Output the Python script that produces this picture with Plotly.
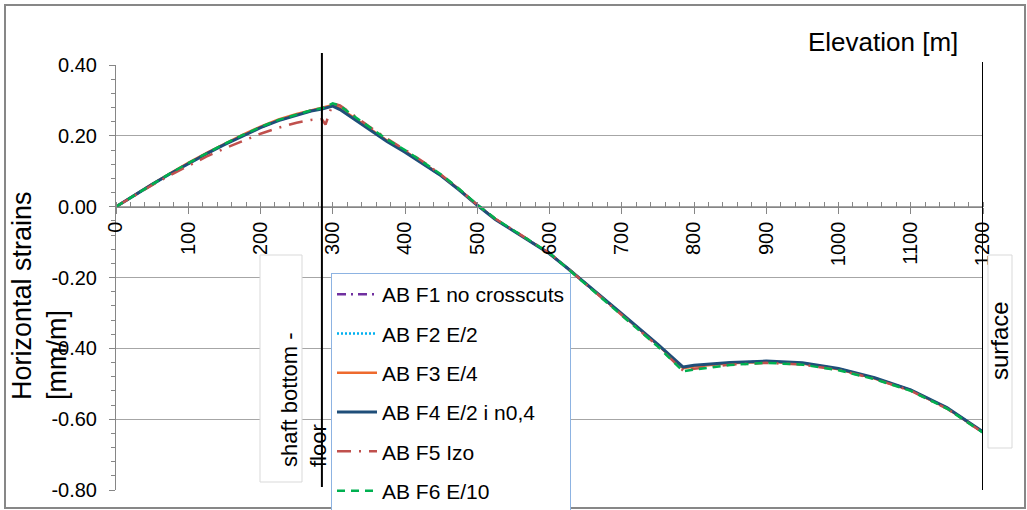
import plotly.graph_objects as go

# ---------------- data ----------------
ELEVATION = [0, 25, 50, 75, 100, 125, 150, 175, 200, 225, 250, 270, 285, 290, 300, 310, 325,
             350, 375, 400, 425, 450, 475, 500, 525, 550, 575, 600, 625, 650, 700, 750, 785,
             800, 850, 900, 950, 1000, 1050, 1100, 1150, 1200]

F1_NO_CROSSCUTS = [0.000, 0.032, 0.063, 0.093, 0.122, 0.150, 0.176, 0.201, 0.224, 0.244, 0.260,
                   0.271, 0.277, 0.279, 0.286, 0.276, 0.255, 0.220, 0.186, 0.156, 0.123, 0.088,
                   0.048, 0.005, -0.035, -0.068, -0.100, -0.132, -0.174, -0.217, -0.303, -0.390,
                   -0.455, -0.450, -0.441, -0.437, -0.442, -0.458, -0.484, -0.518, -0.568, -0.637]
F2_E2 = [0.000, 0.032, 0.063, 0.093, 0.122, 0.150, 0.176, 0.201, 0.224, 0.244, 0.260,
         0.271, 0.277, 0.279, 0.286, 0.276, 0.255, 0.220, 0.186, 0.156, 0.123, 0.088,
         0.048, 0.005, -0.035, -0.068, -0.100, -0.132, -0.174, -0.217, -0.303, -0.390,
         -0.455, -0.450, -0.441, -0.437, -0.442, -0.458, -0.484, -0.518, -0.568, -0.637]
F3_E4 = [0.000, 0.033, 0.064, 0.094, 0.124, 0.151, 0.178, 0.203, 0.226, 0.246, 0.262,
         0.272, 0.278, 0.280, 0.287, 0.278, 0.257, 0.222, 0.187, 0.157, 0.124, 0.089,
         0.049, 0.005, -0.035, -0.068, -0.100, -0.132, -0.174, -0.217, -0.304, -0.391,
         -0.456, -0.451, -0.442, -0.438, -0.443, -0.459, -0.485, -0.519, -0.569, -0.637]
F4_E2_N04 = [0.000, 0.032, 0.063, 0.093, 0.122, 0.149, 0.175, 0.200, 0.223, 0.243, 0.259,
             0.270, 0.276, 0.278, 0.284, 0.274, 0.253, 0.218, 0.184, 0.154, 0.121, 0.087,
             0.047, 0.004, -0.036, -0.069, -0.101, -0.133, -0.174, -0.216, -0.302, -0.389,
             -0.453, -0.448, -0.440, -0.436, -0.441, -0.457, -0.483, -0.517, -0.567, -0.636]
F5_IZO = [0.000, 0.031, 0.061, 0.089, 0.116, 0.141, 0.164, 0.186, 0.206, 0.223, 0.237,
          0.245, 0.247, 0.232, 0.291, 0.286, 0.263, 0.227, 0.192, 0.161, 0.127, 0.090,
          0.049, 0.005, -0.034, -0.066, -0.099, -0.131, -0.174, -0.218, -0.305, -0.394,
          -0.463, -0.458, -0.446, -0.441, -0.446, -0.461, -0.486, -0.520, -0.570, -0.638]
F6_E10 = [0.000, 0.032, 0.064, 0.094, 0.123, 0.151, 0.177, 0.202, 0.225, 0.245, 0.261,
          0.272, 0.278, 0.281, 0.292, 0.285, 0.262, 0.226, 0.190, 0.160, 0.126, 0.091,
          0.050, 0.006, -0.034, -0.067, -0.099, -0.131, -0.175, -0.219, -0.306, -0.395,
          -0.465, -0.460, -0.447, -0.441, -0.446, -0.462, -0.487, -0.520, -0.570, -0.638]

SERIES_NAMES = ["AB F1 no crosscuts", "AB F2 E/2", "AB F3 E/4",
                "AB F4 E/2 i n0,4", "AB F5 Izo", "AB F6 E/10"]
SERIES_VALUES = [F1_NO_CROSSCUTS, F2_E2, F3_E4, F4_E2_N04, F5_IZO, F6_E10]

X_TICKS = [0, 100, 200, 300, 400, 500, 600, 700, 800, 900, 1000, 1100, 1200]
X_TICK_LABELS = ["0", "100", "200", "300", "400", "500", "600", "700", "800", "900",
                 "1000", "1100", "1200"]
Y_TICKS = [-0.8, -0.6, -0.4, -0.2, 0.0, 0.2, 0.4]
Y_TICK_LABELS = ["-0.80", "-0.60", "-0.40", "-0.20", "0.00", "0.20", "0.40"]
X_RANGE = [0, 1200]
Y_RANGE = [-0.8, 0.4]
SHAFT_X = 285
SURFACE_X = 1200

# ---------------- styling ----------------
COLORS = ["#7030A0", "#00B0F0", "#EE6A2E", "#1F4E79", "#C0504D", "#00B050"]
DASHES = ["9px,5px,2px,5px", "2px,2px", "solid", "solid", "14px,8px,2px,8px", "8px,6px"]
WIDTHS = [2.5, 2.5, 2.5, 3, 2.5, 2.5]
FONT = "Liberation Sans, Arial, sans-serif"

W, H = 1027, 510
ML, MR, MT, MB = 116, 44, 65, 20
PW, PH = W - ML - MR, H - MT - MB


def px(xp):
    return (xp - ML) / PW


def py(yp):
    return (H - MB - yp) / PH


fig = go.Figure()
for i, (name, vals) in enumerate(zip(SERIES_NAMES, SERIES_VALUES)):
    fig.add_trace(go.Scatter(
        x=ELEVATION, y=vals, mode="lines", name=name, legendgroup=f"g{i}",
        line=dict(color=COLORS[i], width=WIDTHS[i], dash=DASHES[i]),
    ))

shapes = [
    # outer chart border
    dict(type="rect", xref="paper", yref="paper", x0=px(5), x1=px(1025), y0=py(508), y1=py(5),
         line=dict(color="#878787", width=2), fillcolor="rgba(0,0,0,0)", layer="below"),
    # text boxes
    dict(type="rect", xref="paper", yref="paper", x0=px(260), x1=px(302), y0=py(482), y1=py(255),
         line=dict(color="#D9D9D9", width=1), fillcolor="white", layer="above"),
    dict(type="rect", xref="paper", yref="paper", x0=px(988), x1=px(1012), y0=py(448), y1=py(255),
         line=dict(color="#D9D9D9", width=1), fillcolor="white", layer="above"),
    # vertical markers
    dict(type="line", xref="x", yref="paper", x0=SHAFT_X, x1=SHAFT_X, y0=py(487), y1=py(53),
         line=dict(color="black", width=2), layer="above"),
    dict(type="line", xref="x", yref="paper", x0=SURFACE_X, x1=SURFACE_X, y0=py(490), y1=py(62),
         line=dict(color="black", width=2), layer="above"),
]

annotations = [
    dict(text="Elevation [m]", xref="paper", yref="paper", x=px(883), y=py(42),
         showarrow=False, font=dict(size=26, color="black", family=FONT),
         xanchor="center", yanchor="middle"),
    dict(text="Horizontal strains<br>[mm/m]", xref="paper", yref="paper", x=px(39), y=py(296),
         showarrow=False, textangle=-90, align="left",
         font=dict(size=27, color="black", family=FONT), xanchor="center", yanchor="middle"),
    dict(text="shaft bottom -<br>floor", xref="paper", yref="paper", x=px(304), y=py(400),
         showarrow=False, textangle=-90, align="left",
         font=dict(size=22, color="black", family=FONT), xanchor="center", yanchor="middle"),
    dict(text="surface", xref="paper", yref="paper", x=px(1000), y=py(340),
         showarrow=False, textangle=-90,
         font=dict(size=24, color="black", family=FONT), xanchor="center", yanchor="middle"),
]

fig.update_layout(
    width=W, height=H,
    margin=dict(l=ML, r=MR, t=MT, b=MB, autoexpand=False),
    paper_bgcolor="white", plot_bgcolor="white",
    font=dict(family=FONT, color="black"),
    showlegend=True,
    legend=dict(x=px(331), y=py(273), xanchor="left", yanchor="top",
                bgcolor="white", bordercolor="#8DB3E2", borderwidth=1,
                font=dict(size=21, color="black", family=FONT),
                itemwidth=40, tracegroupgap=9, traceorder="grouped"),
    xaxis=dict(range=X_RANGE, anchor="free",
               position=(0 - Y_RANGE[0]) / (Y_RANGE[1] - Y_RANGE[0]),
               tickmode="array", tickvals=X_TICKS, ticktext=X_TICK_LABELS, tickangle=-90,
               tickfont=dict(size=20, color="black", family=FONT),
               ticks="outside", ticklen=6, tickcolor="#868686",
               minor=dict(dtick=20, tick0=0, ticks="inside", ticklen=5, tickcolor="#868686",
                          showgrid=False),
               showgrid=False, zeroline=False, showline=True, linecolor="#868686", linewidth=1),
    yaxis=dict(range=Y_RANGE, tickmode="array", tickvals=Y_TICKS, ticktext=Y_TICK_LABELS,
               tickfont=dict(size=20, color="black", family=FONT),
               ticks="outside", ticklen=6, tickcolor="#868686", ticklabelstandoff=8,
               minor=dict(dtick=0.04, tick0=0, ticks="outside", ticklen=4, tickcolor="#868686",
                          showgrid=False),
               showgrid=True, gridcolor="#A6A6A6", gridwidth=1,
               zeroline=False, showline=True, linecolor="#868686", linewidth=1),
    shapes=shapes,
    annotations=annotations,
)

fig.write_html("out.html")
